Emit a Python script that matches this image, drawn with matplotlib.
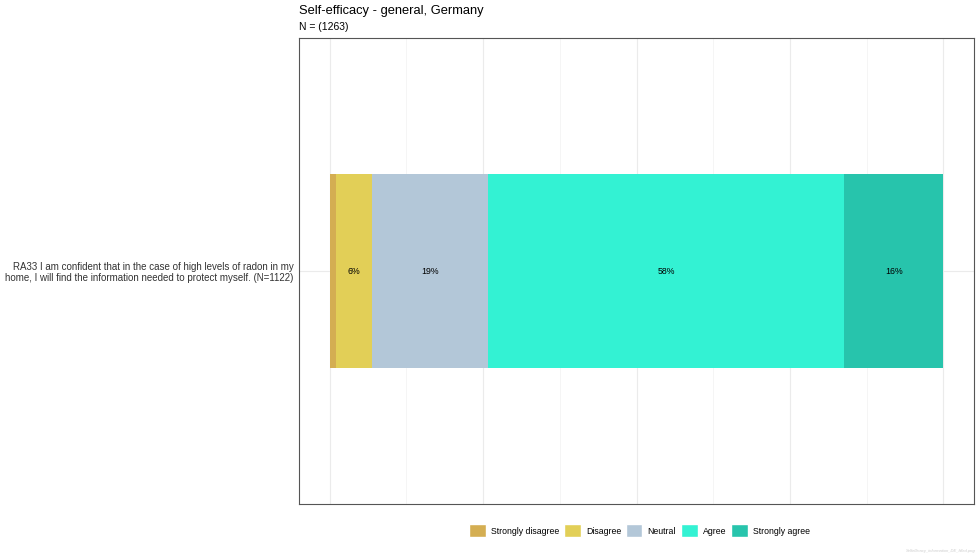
import matplotlib
matplotlib.use('Agg')
import matplotlib.pyplot as plt
from matplotlib.patches import Patch

plt.rcParams['font.family'] = ['Liberation Sans', 'DejaVu Sans']

# data
item_label = ('RA33 I am confident that in the case of high levels of radon in my\n'
              'home, I will find the information needed to protect myself. (N=1122)')
categories = ['Strongly disagree', 'Disagree', 'Neutral', 'Agree', 'Strongly agree']
shares = [0.010, 0.059, 0.189, 0.580, 0.162]
colors = ['#D4AE52', '#E2CF57', '#B3C7D8', '#33F2D3', '#27C4AC']
title = 'Self-efficacy - general, Germany'
subtitle = 'N = (1263)'
caption = 'Selfefficacy_information_DE_filled.png'


def main():
    fig = plt.figure(figsize=(9.8, 5.6), dpi=100)
    ax = fig.add_axes([0.3051, 0.1, 0.6888, 0.832])

    left = 0.0
    for cat, val, col in zip(categories, shares, colors):
        ax.barh(1, val, left=left, height=0.5, color=col, label=cat, zorder=2)
        if val >= 0.03:
            ax.text(left + val / 2, 1, f'{round(val * 100):.0f}%', ha='center',
                    va='center', fontsize=6.3, color='black', zorder=3)
        left += val

    ax.set_xlim(-0.05, 1.05)
    ax.set_ylim(0.4, 1.6)

    # grid like ggplot minimal
    ax.set_xticks([0, 0.25, 0.5, 0.75, 1.0])
    ax.set_xticks([0.125, 0.375, 0.625, 0.875], minor=True)
    ax.set_yticks([1])
    ax.set_yticklabels([item_label], fontsize=7.0, color='#333333',
                       multialignment='right', linespacing=1.1)
    ax.set_xticklabels([])
    ax.tick_params(axis='both', which='both', length=0, pad=4)
    ax.grid(True, which='major', color='#EBEBEB', linewidth=0.8, zorder=0)
    ax.grid(True, which='minor', axis='x', color='#F4F4F4', linewidth=0.6, zorder=0)
    ax.set_axisbelow(True)
    for s in ax.spines.values():
        s.set_color('#555555')
        s.set_linewidth(0.8)

    fig.text(0.3051, 0.980, title, ha='left', va='center', fontsize=9.3, color='black')
    fig.text(0.3051, 0.952, subtitle, ha='left', va='center', fontsize=7.5, color='black')

    handles = [Patch(facecolor=c, edgecolor='white', label=l) for l, c in zip(categories, colors)]
    fig.legend(handles=handles, loc='center', bbox_to_anchor=(0.6525, 0.052), ncol=5,
               frameon=False, fontsize=6.3, handlelength=1.9, handleheight=1.9,
               handletextpad=0.6, columnspacing=0.55)

    fig.text(0.995, 0.012, caption, ha='right', va='bottom', fontsize=3, color='#CCCCCC',
             style='italic')

    fig.savefig('out.png', dpi=100)


if __name__ == '__main__':
    main()
